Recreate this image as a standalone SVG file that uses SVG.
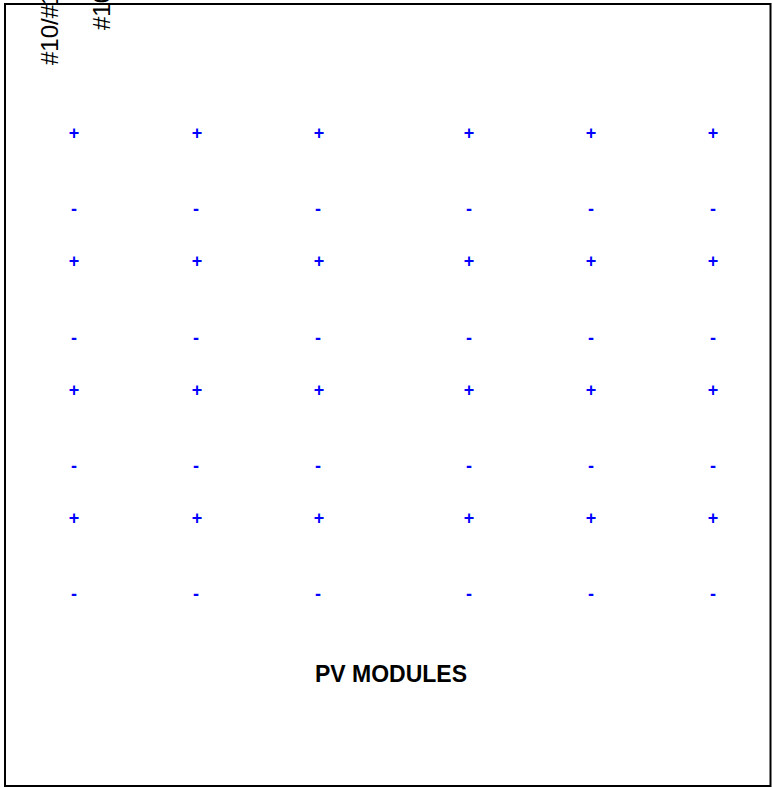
<svg xmlns="http://www.w3.org/2000/svg" width="772" height="788" viewBox="0 0 772 788">
<style>
.p{font-family:"Liberation Sans",Arial,sans-serif;font-size:18px;font-weight:bold;fill:#0000ff;text-anchor:middle}
.lbl{font-family:"Liberation Sans",Arial,sans-serif;font-size:24px;fill:#000}
.title{font-family:"Liberation Sans",Arial,sans-serif;font-size:23px;font-weight:bold;fill:#000;text-anchor:middle}
</style>
<rect x="5" y="4" width="765.5" height="782" fill="#fff" stroke="#000" stroke-width="2"/>
<g id="labels">
<text class="lbl" transform="translate(58,65) rotate(-90)">#10/#12</text>
<text class="lbl" transform="translate(110,30) rotate(-90)">#10</text>
</g>
<g id="modules">
<g id="row1"><text class="p" x="74" y="139">+</text><text class="p" x="197" y="139">+</text><text class="p" x="319" y="139">+</text><text class="p" x="469" y="139">+</text><text class="p" x="591" y="139">+</text><text class="p" x="713" y="139">+</text>
<text class="p" x="74" y="215">-</text><text class="p" x="196" y="215">-</text><text class="p" x="318" y="215">-</text><text class="p" x="469" y="215">-</text><text class="p" x="591" y="215">-</text><text class="p" x="713" y="215">-</text></g>
<g id="row2"><text class="p" x="74" y="267">+</text><text class="p" x="197" y="267">+</text><text class="p" x="319" y="267">+</text><text class="p" x="469" y="267">+</text><text class="p" x="591" y="267">+</text><text class="p" x="713" y="267">+</text>
<text class="p" x="74" y="344">-</text><text class="p" x="196" y="344">-</text><text class="p" x="318" y="344">-</text><text class="p" x="469" y="344">-</text><text class="p" x="591" y="344">-</text><text class="p" x="713" y="344">-</text></g>
<g id="row3"><text class="p" x="74" y="396">+</text><text class="p" x="197" y="396">+</text><text class="p" x="319" y="396">+</text><text class="p" x="469" y="396">+</text><text class="p" x="591" y="396">+</text><text class="p" x="713" y="396">+</text>
<text class="p" x="74" y="472">-</text><text class="p" x="196" y="472">-</text><text class="p" x="318" y="472">-</text><text class="p" x="469" y="472">-</text><text class="p" x="591" y="472">-</text><text class="p" x="713" y="472">-</text></g>
<g id="row4"><text class="p" x="74" y="524">+</text><text class="p" x="197" y="524">+</text><text class="p" x="319" y="524">+</text><text class="p" x="469" y="524">+</text><text class="p" x="591" y="524">+</text><text class="p" x="713" y="524">+</text>
<text class="p" x="74" y="600">-</text><text class="p" x="196" y="600">-</text><text class="p" x="318" y="600">-</text><text class="p" x="469" y="600">-</text><text class="p" x="591" y="600">-</text><text class="p" x="713" y="600">-</text></g>
</g>
<g id="title"><text class="title" x="391" y="682">PV MODULES</text></g>
</svg>
